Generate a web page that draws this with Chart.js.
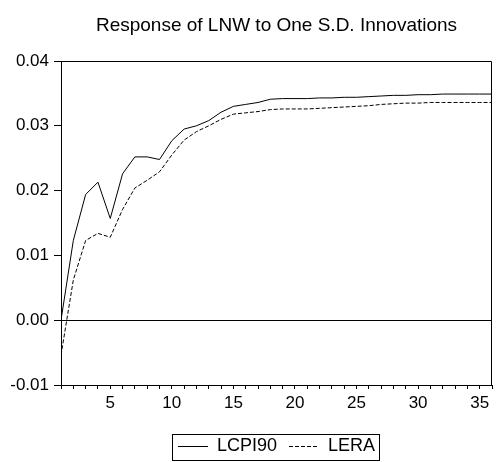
<!DOCTYPE html>
<html lang="en">
<head>
  <meta charset="UTF-8">
  <title>Response of LNW to One S.D. Innovations</title>
  <script src="https://cdn.jsdelivr.net/npm/chart.js"></script>
  <style>
    body { margin: 0; background: #fff; }
  </style>
</head>
<body>
  <canvas id="irfChart" width="496" height="462"></canvas>

  <script>
    // periods after the shock
    const periods = [1, 2, 3, 4, 5, 6, 7, 8, 9, 10, 11, 12, 13, 14, 15, 16, 17, 18,
                     19, 20, 21, 22, 23, 24, 25, 26, 27, 28, 29, 30, 31, 32, 33, 34, 35, 36];

    // response of LNW to a shock in LCPI90
    const lcpi90 = [0.0000, 0.0123, 0.0194, 0.0213, 0.0157, 0.0226, 0.0252, 0.0252, 0.0248,
                    0.0277, 0.0295, 0.0300, 0.0308, 0.0321, 0.0330, 0.0333, 0.0336, 0.0341,
                    0.0342, 0.0342, 0.0342, 0.0343, 0.0343, 0.0344, 0.0344, 0.0345, 0.0346,
                    0.0347, 0.0347, 0.0348, 0.0348, 0.0349, 0.0349, 0.0349, 0.0349, 0.0349];

    // response of LNW to a shock in LERA
    const lera = [-0.0054, 0.0062, 0.0123, 0.0134, 0.0128, 0.0171, 0.0204, 0.0216, 0.0229,
                  0.0255, 0.0278, 0.0291, 0.0300, 0.0310, 0.0318, 0.0320, 0.0322, 0.0325,
                  0.0326, 0.0326, 0.0326, 0.0327, 0.0328, 0.0329, 0.0330, 0.0331, 0.0333,
                  0.0334, 0.0335, 0.0335, 0.0336, 0.0336, 0.0336, 0.0336, 0.0336, 0.0336];

    const seriesNames = ['LCPI90', 'LERA'];
    const yTicks = [-0.01, 0.00, 0.01, 0.02, 0.03, 0.04];
    const xLabelEvery = 5;

    const FONT = 'Liberation Sans, Arial, Helvetica, sans-serif';

    function toPoints(values) {
      return values.map((v, i) => ({ x: periods[i], y: v }));
    }

    // closes the plot frame and puts a border round the legend
    const framePlugin = {
      id: 'frame',
      afterDraw(chart) {
        const { ctx, chartArea: a } = chart;
        ctx.save();
        ctx.strokeStyle = '#000';
        ctx.lineWidth = 1;
        ctx.beginPath();
        ctx.moveTo(a.left, Math.round(a.top) + 0.5);
        ctx.lineTo(Math.round(a.right) - 0.5, Math.round(a.top) + 0.5);
        ctx.lineTo(Math.round(a.right) - 0.5, a.bottom);
        ctx.stroke();

        const boxes = chart.legend.legendHitBoxes;
        if (boxes && boxes.length) {
          const left = Math.min(...boxes.map(b => b.left)) - 6;
          const right = Math.max(...boxes.map(b => b.left + b.width)) + 4;
          const mid = boxes[0].top + boxes[0].height / 2;
          ctx.strokeRect(Math.round(left) + 0.5, Math.round(mid - 13) + 0.5,
                         Math.round(right - left), 26);
        }
        ctx.restore();
      }
    };

    const ctx = document.getElementById('irfChart').getContext('2d');

    new Chart(ctx, {
      type: 'line',
      data: {
        datasets: [{
          label: seriesNames[0],
          data: toPoints(lcpi90),
          borderColor: '#000',
          backgroundColor: 'transparent',
          borderWidth: 1,
          pointRadius: 0,
          tension: 0
        }, {
          label: seriesNames[1],
          data: toPoints(lera),
          borderColor: '#000',
          backgroundColor: 'transparent',
          borderWidth: 1,
          borderDash: [4, 2],
          pointRadius: 0,
          tension: 0
        }]
      },
      options: {
        responsive: false,
        animation: false,
        layout: { padding: { left: 0, right: 2, top: 0, bottom: 0 } },
        plugins: {
          title: {
            display: true,
            text: 'Response of LNW to One S.D. Innovations',
            fullSize: false,
            color: '#000',
            font: { family: FONT, size: 19, weight: 'normal' },
            padding: { top: 14.5, bottom: 23.7 }
          },
          legend: {
            position: 'bottom',
            fullSize: false,
            maxHeight: 36.5,
            labels: {
              color: '#000',
              font: { family: FONT, size: 18 },
              usePointStyle: true,
              pointStyle: 'line',
              pointStyleWidth: 30,
              padding: 12,
              // point-style legend items lose the dataset dash, so copy it back
              generateLabels(chart) {
                const base = Chart.defaults.plugins.legend.labels.generateLabels(chart);
                return base.map(item => Object.assign(item, {
                  lineDash: chart.data.datasets[item.datasetIndex].borderDash || []
                }));
              }
            }
          },
          tooltip: { enabled: false }
        },
        scales: {
          x: {
            type: 'linear',
            min: periods[0],
            max: periods[periods.length - 1],
            afterFit(scale) { scale.height = 40.5; },
            border: { display: true, color: '#000', width: 1 },
            grid: {
              drawOnChartArea: false,
              drawTicks: true,
              tickLength: 4,
              color: '#000',
              tickColor: '#000'
            },
            ticks: {
              stepSize: 1,
              autoSkip: false,
              maxRotation: 0,
              padding: 4,
              color: '#000',
              font: { family: FONT, size: 17 },
              callback: v => (v % xLabelEvery === 0 ? String(v) : '')
            }
          },
          y: {
            min: yTicks[0],
            max: yTicks[yTicks.length - 1],
            afterFit(scale) { scale.width = 61; },
            afterBuildTicks(scale) { scale.ticks = yTicks.map(v => ({ value: v })); },
            border: { display: true, color: '#000', width: 1 },
            grid: {
              drawOnChartArea: true,
              drawTicks: true,
              tickLength: 7,
              tickColor: '#000',
              color: c => (c.tick && Math.abs(c.tick.value) < 1e-9 ? '#000' : 'rgba(0,0,0,0)')
            },
            ticks: {
              padding: 5,
              color: '#000',
              font: { family: FONT, size: 17 },
              callback: v => v.toFixed(2)
            }
          }
        }
      },
      plugins: [framePlugin]
    });
  </script>
</body>
</html>
